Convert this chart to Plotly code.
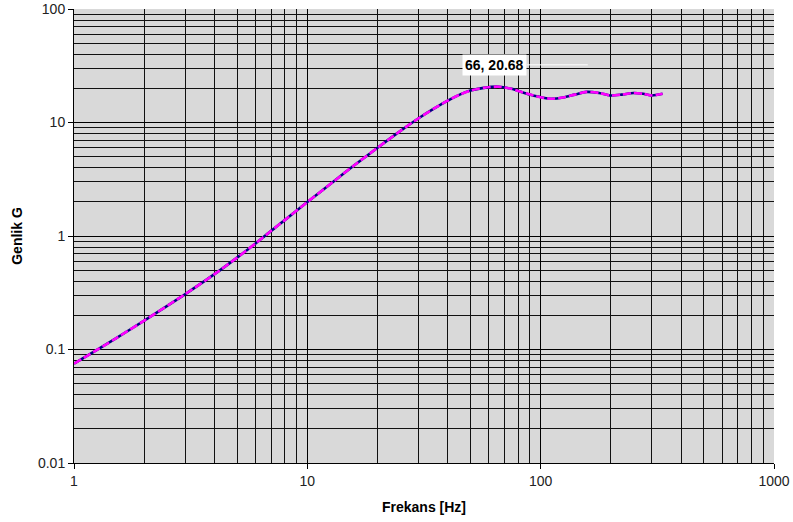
import plotly.graph_objects as go

freq = [1, 1.5, 2, 3, 4, 5, 6, 7, 8, 10, 13, 16, 20, 25, 30, 35, 40, 45, 50, 57, 66,
        75, 84, 95, 110, 125, 140, 157, 178, 198, 222, 250, 275, 300, 333]
gain = [0.075, 0.124, 0.18, 0.308, 0.461, 0.645, 0.86, 1.11, 1.38, 1.99, 3.04, 4.24,
        6.0, 8.4, 10.9, 13.3, 15.6, 17.6, 19.1, 20.2, 20.68, 19.8, 18.4, 17.1, 16.2,
        16.6, 17.6, 18.6, 18.2, 17.3, 17.6, 18.2, 17.9, 17.3, 17.9]

peak_f = 66
peak_g = 20.68

x_major = [1, 10, 100, 1000]
y_major = [0.01, 0.1, 1, 10, 100]
x_minor = [k * 10 ** n for n in range(0, 3) for k in range(2, 10)]
y_minor = [k * 10 ** n for n in range(-2, 2) for k in range(2, 10)]

fig = go.Figure()
fig.add_trace(go.Scatter(x=freq, y=gain, mode="lines",
                         line=dict(color="#000080", width=2.6, shape="spline", smoothing=0.7),
                         showlegend=False, hoverinfo="skip"))
fig.add_trace(go.Scatter(x=freq, y=gain, mode="lines",
                         line=dict(color="#ff00ff", width=2.6, dash="8px,3px", shape="spline", smoothing=0.7),
                         showlegend=False))

font = "Liberation Sans, Arial, sans-serif"
axis_common = dict(
    type="log", showline=True, linecolor="#000", linewidth=1, mirror=False,
    ticks="outside", ticklen=5, tickcolor="#000",
    showgrid=True, gridcolor="#000", gridwidth=1,
    tickfont=dict(family=font, size=14, color="#222"),
    zeroline=False, automargin=False, ticklabeloverflow="allow",
)
fig.update_xaxes(**axis_common, range=[0, 3], tickvals=x_major, ticktext=[str(v) for v in x_major],
                 minor=dict(tickvals=x_minor, showgrid=True, gridcolor="#111", gridwidth=1, ticks=""),
                 title=dict(text="<b>Frekans [Hz]</b>", font=dict(family=font, size=14, color="#000"), standoff=14))
fig.update_yaxes(**axis_common, range=[-2, 2], tickvals=y_major, ticktext=["0.01", "0.1", "1", "10", "100"],
                 minor=dict(tickvals=y_minor, showgrid=True, gridcolor="#111", gridwidth=1, ticks=""),
                 title=dict(text="<b>Genlik G</b>", font=dict(family=font, size=14, color="#000"), standoff=12))

fig.add_shape(type="line", xref="paper", yref="paper", x0=0.647, x1=0.734, y0=0.877, y1=0.877,
              line=dict(color="#fff", width=1))
fig.add_annotation(x=0.601, y=0.877, xref="paper", yref="paper", xanchor="center", yanchor="middle",
                   text=f"<b>{peak_f}, {peak_g}</b>",
                   showarrow=False, bgcolor="#fff", font=dict(family=font, size=14, color="#000"),
                   borderpad=2)

fig.update_layout(
    width=793, height=522,
    margin=dict(l=74, r=19, t=9, b=59),
    plot_bgcolor="#d9d9d9", paper_bgcolor="#fff",
    font=dict(family=font),
)
fig.write_html("out.html", config={"displayModeBar": False},
               post_script="document.body.style.margin='0';document.body.style.overflow='hidden';")
